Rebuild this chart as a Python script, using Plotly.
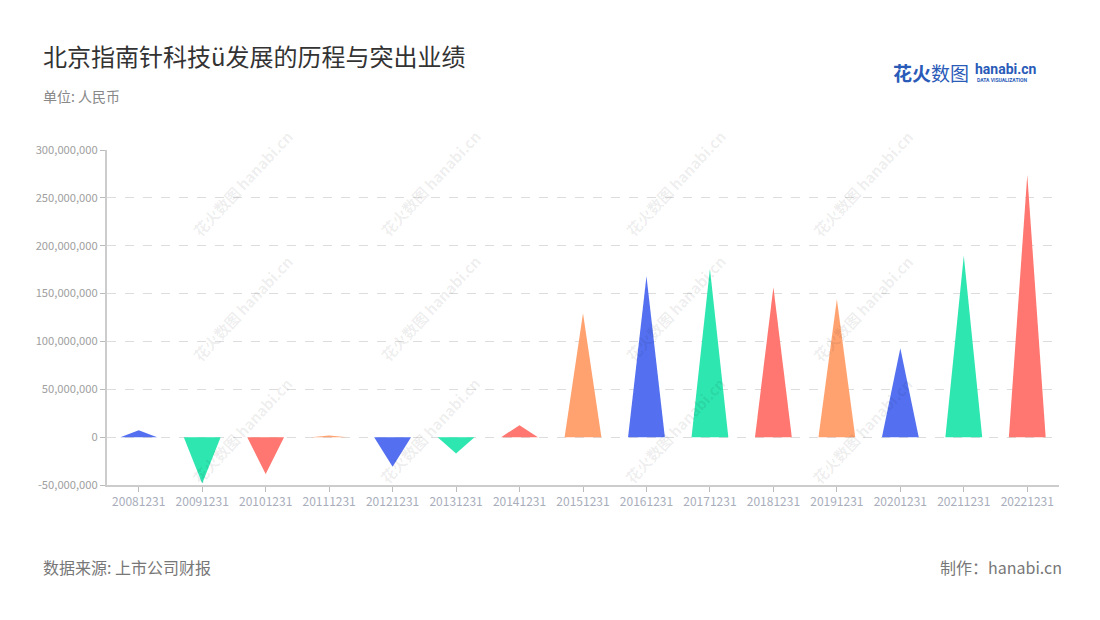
import plotly.graph_objects as go

categories = ["20081231", "20091231", "20101231", "20111231", "20121231", "20131231",
              "20141231", "20151231", "20161231", "20171231", "20181231", "20191231",
              "20201231", "20211231", "20221231"]
values = [7.2e6, -48.5e6, -38.5e6, 1.6e6, -31e6, -17e6, 12.5e6, 129.5e6,
          168e6, 176e6, 156.5e6, 144e6, 93e6, 189.5e6, 274e6]
palette = ["#5470F0", "#2EE6B0", "#FF7770", "#FFA26F"]
tick_vals = [-50e6, 0, 50e6, 100e6, 150e6, 200e6, 250e6, 300e6]
tick_text = ["-50,000,000", "0", "50,000,000", "100,000,000", "150,000,000",
             "200,000,000", "250,000,000", "300,000,000"]

FONT = "Noto Sans CJK SC"
half_w = 0.29

# page offset (body margin) compensation
OX, OY = 8, 8
L, T, PW, PH = 107, 150, 952, 335


def px(x):
    return (x - OX - (L - OX)) / PW if False else (x - L) / PW


def py(y):
    return (T + PH - y) / PH


fig = go.Figure()
for i, (c, v) in enumerate(zip(categories, values)):
    fig.add_trace(go.Scatter(
        x=[i - half_w, i, i + half_w, i - half_w],
        y=[0, v, 0, 0],
        mode="lines", fill="toself",
        fillcolor=palette[i % 4], line=dict(width=0, color=palette[i % 4]),
        hoverinfo="text", text=f"{c}: {v:,.0f}", showlegend=False))

# watermarks
for cx in [185, 430, 675, 920]:
    for cy in [123, 308, 491]:
        fig.add_annotation(xref="paper", yref="paper", x=px(cx), y=py(cy),
                           text="<b>花火数图 hanabi.cn</b>",
                           textangle=-47, showarrow=False,
                           font=dict(family=FONT, size=15, color="rgba(0,0,0,0.075)"))

fig.update_layout(
    width=1100, height=620,
    margin=dict(l=L - OX, r=1100 - (L + PW - OX), t=T - OY, b=620 - (T + PH - OY)),
    paper_bgcolor="white", plot_bgcolor="white",
    font=dict(family=FONT),
    xaxis=dict(range=[-0.5, 14.5], tickmode="array", tickvals=list(range(len(categories))),
               ticktext=categories, showgrid=False, zeroline=False,
               showline=True, linecolor="#cccccc", linewidth=2,
               ticks="outside", ticklen=5, tickcolor="#bbbbbb",
               tickfont=dict(family=FONT, size=12, color="#a8adbb")),
    yaxis=dict(range=[-50e6, 300e6], tickmode="array", tickvals=tick_vals, ticktext=tick_text,
               showgrid=True, gridcolor="#dddddd", griddash="dash", gridwidth=1,
               zeroline=False, showline=True, linecolor="#cccccc", linewidth=2,
               ticks="outside", ticklen=5, tickcolor="#bbbbbb",
               tickfont=dict(family=FONT, size=11.2, color="#a0a0a0")),
)

fig.add_annotation(xref="paper", yref="paper", x=px(41), y=py(55),
                   xanchor="left", yanchor="middle", showarrow=False,
                   text="北京指南针科技ü发展的历程与突出业绩",
                   font=dict(family=FONT, size=24, color="#333333"))
fig.add_annotation(xref="paper", yref="paper", x=px(41), y=py(96),
                   xanchor="left", yanchor="middle", showarrow=False,
                   text="单位: 人民币", font=dict(family=FONT, size=14, color="#888888"))
fig.add_annotation(xref="paper", yref="paper", x=px(41), y=py(567),
                   xanchor="left", yanchor="middle", showarrow=False,
                   text="数据来源: 上市公司财报", font=dict(family=FONT, size=16, color="#777777"))
fig.add_annotation(xref="paper", yref="paper", x=px(1064), y=py(567),
                   xanchor="right", yanchor="middle", showarrow=False,
                   text="制作：hanabi.cn", font=dict(family=FONT, size=16, color="#777777"))
# logo
fig.add_annotation(xref="paper", yref="paper", x=px(891), y=py(72),
                   xanchor="left", yanchor="middle", showarrow=False,
                   text="<b>花火</b>数图", font=dict(family=FONT, size=19, color="#2a5bb8"))
fig.add_annotation(xref="paper", yref="paper", x=px(973), y=py(69),
                   xanchor="left", yanchor="middle", showarrow=False,
                   text="<b>hanabi.cn</b>", font=dict(family="Roboto", size=14, color="#2a5bb8"))
fig.add_annotation(xref="paper", yref="paper", x=px(975), y=py(80),
                   xanchor="left", yanchor="middle", showarrow=False,
                   text="<b>DATA VISUALIZATION</b>", font=dict(family="Roboto", size=5, color="#2a5bb8"))

fig.write_html("out.html")
